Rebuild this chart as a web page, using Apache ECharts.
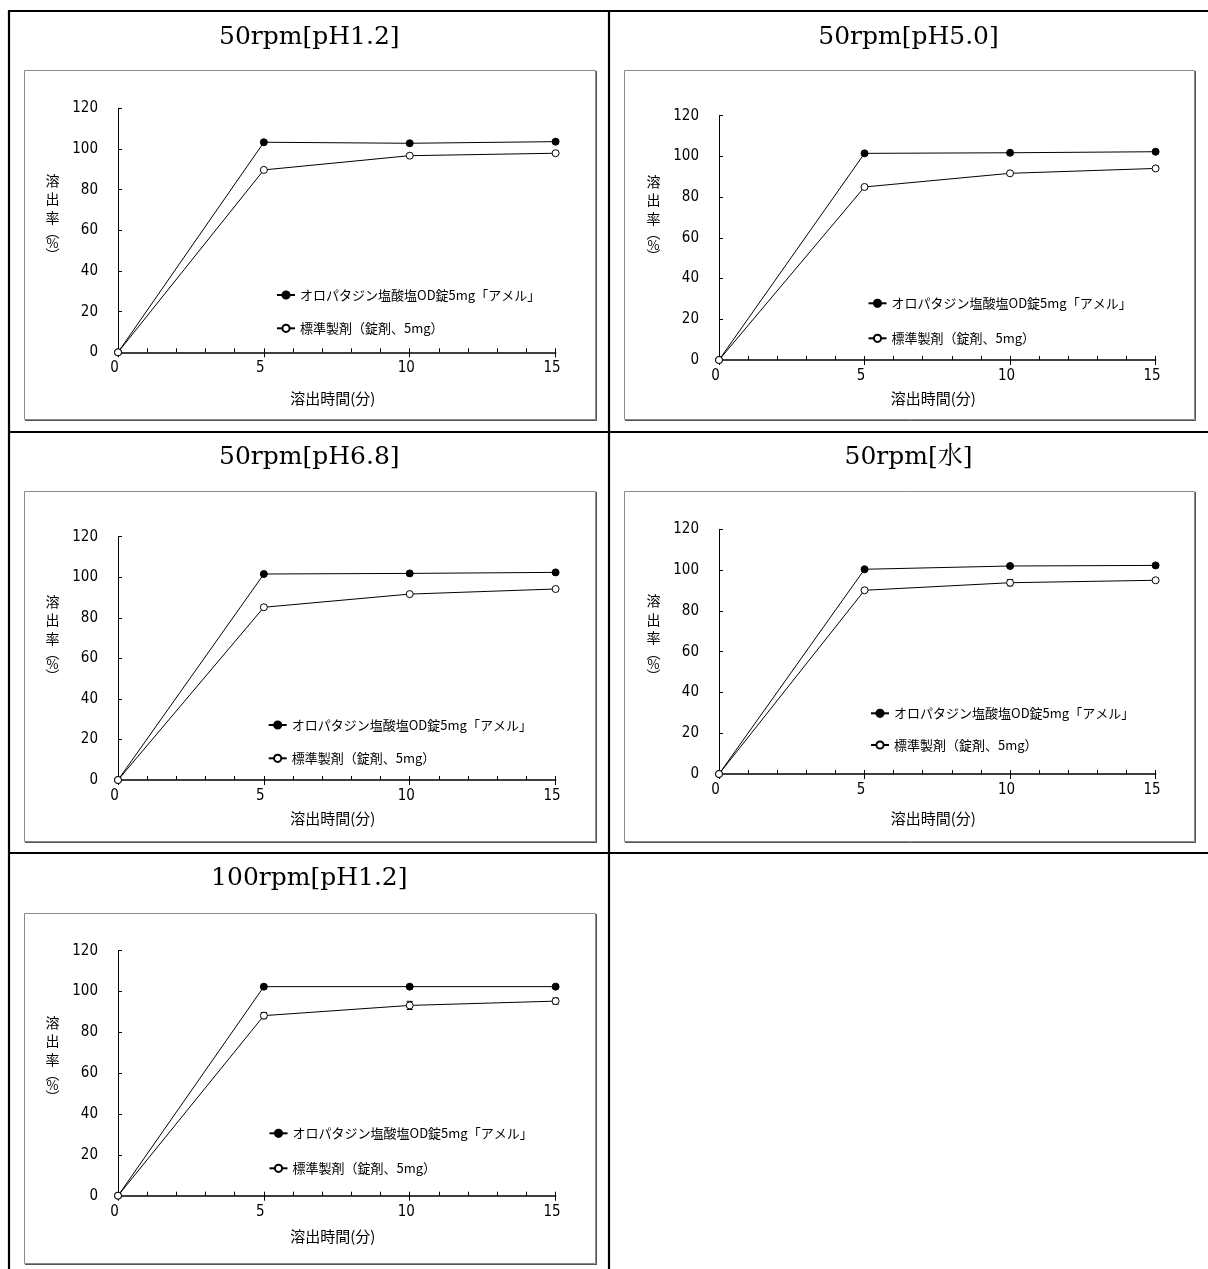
<!DOCTYPE html>
<html><head><meta charset="utf-8">
<script src="https://cdn.jsdelivr.net/npm/echarts@6/dist/echarts.min.js"></script>
<style>html,body{margin:0;padding:0;background:#fff}#c{width:1208px;height:1269px}</style>
</head><body><div id="c"></div>
<script>
// ---- data ----
const times = [0, 5, 10, 15];
const panelTitles = ['50rpm[pH1.2]', '50rpm[pH5.0]', '50rpm[pH6.8]', '50rpm[水]', '100rpm[pH1.2]'];
const seriesNames = ['オロパタジン塩酸塩OD錠5mg「アメル」', '標準製剤（錠剤、5mg）'];
const xAxisName = '溶出時間(分)';
const yAxisNameChars = ['溶', '出', '率', '︵', '%', '︶'];

const test50pH12 = [0, 103.3, 102.8, 103.6];
const ref50pH12 = [0, 89.7, 96.7, 97.9];
const refErr50pH12 = [0, 0, 0, 0];

const test50pH50 = [0, 101.5, 101.8, 102.3];
const ref50pH50 = [0, 85.0, 91.7, 94.1];
const refErr50pH50 = [0, 0, 0, 0];

const test50pH68 = [0, 101.6, 101.9, 102.4];
const ref50pH68 = [0, 85.2, 91.7, 94.2];
const refErr50pH68 = [0, 0, 0, 0];

const test50water = [0, 100.4, 102.0, 102.3];
const ref50water = [0, 90.1, 93.8, 95.0];
const refErr50water = [0, 0.6, 1.5, 0.6];

const test100pH12 = [0, 102.4, 102.4, 102.4];
const ref100pH12 = [0, 88.2, 93.2, 95.3];
const refErr100pH12 = [0, 1.5, 2.0, 1.5];

const yMin = 0, yMax = 120, yStep = 20;
const xMin = 0, xMax = 15, xStep = 5, xMinorStep = 1;

// ---- layout (positions only) ----
const panels = [
  {test: test50pH12, ref: ref50pH12, err: refErr50pH12},
  {test: test50pH50, ref: ref50pH50, err: refErr50pH50},
  {test: test50pH68, ref: ref50pH68, err: refErr50pH68},
  {test: test50water, ref: ref50water, err: refErr50water},
  {test: test100pH12, ref: ref100pH12, err: refErr100pH12}
];
const layout = [
  {frame: [24, 70, 571, 349], grid: [118, 108.3, 437.6, 244], title: [309.3, 37.5], legend: [276, 288, 19.3], yShift: 14.6, xNameGap: 38},
  {frame: [624, 70, 570, 349], grid: [719, 115.7, 436.6, 244.3], title: [908.5, 37.5], legend: [867.5, 296.3, 21], yShift: 21, xNameGap: 30.8},
  {frame: [24, 491, 571, 350], grid: [118, 536.7, 437.6, 243.3], title: [309.3, 457.5], legend: [267.7, 718, 19.3], yShift: 21.6, xNameGap: 30.8},
  {frame: [624, 491, 570, 350], grid: [719, 529.3, 436.6, 244.7], title: [908.5, 457.5], legend: [870, 706.3, 17.7], yShift: 15, xNameGap: 36.8},
  {frame: [24, 913, 571, 350], grid: [118, 950.7, 437.6, 245], title: [309.3, 878.3], legend: [268.5, 1126.3, 21], yShift: 15.5, xNameGap: 33.5}
];

const numFont = '"Liberation Sans Narrow", "DejaVu Sans Condensed", Roboto, sans-serif';
const cjkFont = '"Noto Sans CJK JP", sans-serif';
const titleFont = '"DejaVu Serif", "Noto Serif CJK JP", "Noto Sans CJK JP", serif';

const chart = echarts.init(document.getElementById('c'), null, {renderer: 'canvas'});

const grids = [], xAxes = [], yAxes = [], series = [], legends = [], gEls = [];

// table lines
const tableLines = [
  [8, 11, 1208, 11], [8, 432, 1208, 432], [8, 853, 1208, 853],
  [9, 10, 9, 1269], [609, 10, 609, 1269]
];
tableLines.forEach(l => gEls.push({type: 'line', silent: true, z: 10,
  shape: {x1: l[0], y1: l[1], x2: l[2], y2: l[3]}, style: {stroke: '#000', lineWidth: 2.2}}));

const yName = yAxisNameChars.map((c, k) => '{' + (k < 3 ? 'a' : (k === 4 ? 'c' : 'b')) + '|' + c + '}').join('\n');

panels.forEach((p, i) => {
  const L = layout[i];
  const f = L.frame;
  gEls.push({type: 'rect', silent: true, shape: {x: f[0] + 0.5, y: f[1] + 0.5, width: f[2], height: f[3]},
    style: {fill: null, stroke: '#8a8a8a', lineWidth: 1}});
  gEls.push({type: 'line', silent: true, shape: {x1: f[0] + f[2] + 1.5, y1: f[1] + 1, x2: f[0] + f[2] + 1.5, y2: f[1] + f[3] + 2}, style: {stroke: '#555', lineWidth: 1}});
  gEls.push({type: 'line', silent: true, shape: {x1: f[0] + 1, y1: f[1] + f[3] + 1.5, x2: f[0] + f[2] + 2, y2: f[1] + f[3] + 1.5}, style: {stroke: '#555', lineWidth: 1}});
  gEls.push({type: 'text', silent: true, x: L.title[0], y: L.title[1],
    style: {text: panelTitles[i], align: 'center', verticalAlign: 'middle', font: '25px ' + titleFont, fill: '#000'}});

  grids.push({left: L.grid[0], top: L.grid[1], width: L.grid[2], height: L.grid[3], containLabel: false, outerBoundsMode: 'none'});

  xAxes.push({
    type: 'value', gridIndex: i, min: xMin, max: xMax, interval: xStep, position: 'bottom',
    axisLine: {show: true, onZero: false, lineStyle: {color: '#000', width: 1.5}},
    axisTick: {show: true, inside: false, length: 5, lineStyle: {color: '#000', width: 1}},
    axisLabel: {show: true, margin: 8, fontFamily: numFont, fontSize: 15, lineHeight: 16, color: '#000', padding: [0, 7, 0, 0]},
    splitLine: {show: false},
    name: xAxisName, nameLocation: 'middle', nameGap: L.xNameGap,
    nameTextStyle: {fontFamily: cjkFont, fontSize: 15, lineHeight: 15, color: '#000', padding: [0, 8, 0, 0]}
  });
  xAxes.push({
    type: 'value', gridIndex: i, min: xMin, max: xMax, interval: xMinorStep, position: 'bottom',
    axisLine: {show: false, onZero: false},
    axisTick: {show: true, inside: true, length: 4, lineStyle: {color: '#000', width: 1}},
    axisLabel: {show: false}, splitLine: {show: false}
  });
  yAxes.push({
    type: 'value', gridIndex: i, min: yMin, max: yMax, interval: yStep,
    axisLine: {show: true, lineStyle: {color: '#000', width: 1}},
    axisTick: {show: true, inside: true, length: 4, lineStyle: {color: '#000', width: 1}},
    axisLabel: {show: true, margin: 20, fontFamily: numFont, fontSize: 15, color: '#000'},
    splitLine: {show: false},
    name: yName, nameLocation: 'middle', nameRotate: 0, nameGap: 65.5,
    nameTextStyle: {align: 'center', verticalAlign: 'middle', color: '#000', padding: [0, 0, 2 * L.yShift, 0],
      rich: {
        a: {fontFamily: cjkFont, fontSize: 14, lineHeight: 18.5, color: '#000', align: 'center'},
        b: {fontFamily: cjkFont, fontSize: 14, lineHeight: 11, color: '#000', align: 'center'},
        c: {fontFamily: cjkFont, fontSize: 13, lineHeight: 12, color: '#000', align: 'center'}
      }}
  });

  series.push({
    type: 'line', name: seriesNames[0], xAxisIndex: 2 * i, yAxisIndex: i,
    data: times.map((t, k) => [t, p.test[k]]),
    symbol: 'circle', symbolSize: 7, showSymbol: true, z: 3,
    lineStyle: {color: '#000', width: 1},
    itemStyle: {color: '#000', borderColor: '#000', borderWidth: 1},
    emphasis: {disabled: true}, silent: true
  });
  const errData = times.map((t, k) => [t, p.ref[k] - p.err[k], p.ref[k] + p.err[k]]).filter(d => d[2] - d[1] > 0);
  if (errData.length) {
    series.push({
      type: 'custom', xAxisIndex: 2 * i, yAxisIndex: i, silent: true, z: 2,
      encode: {x: 0, y: [1, 2]}, data: errData,
      renderItem: function (params, api) {
        const lo = api.coord([api.value(0), api.value(1)]);
        const hi = api.coord([api.value(0), api.value(2)]);
        const w = 3;
        const st = {stroke: '#000', lineWidth: 1};
        return {type: 'group', children: [
          {type: 'line', shape: {x1: lo[0], y1: lo[1], x2: hi[0], y2: hi[1]}, style: st},
          {type: 'line', shape: {x1: lo[0] - w, y1: lo[1], x2: lo[0] + w, y2: lo[1]}, style: st},
          {type: 'line', shape: {x1: hi[0] - w, y1: hi[1], x2: hi[0] + w, y2: hi[1]}, style: st}
        ]};
      }
    });
  }
  series.push({
    type: 'line', name: seriesNames[1], xAxisIndex: 2 * i, yAxisIndex: i,
    data: times.map((t, k) => [t, p.ref[k]]),
    symbol: 'circle', symbolSize: 7, showSymbol: true, z: 4,
    lineStyle: {color: '#000', width: 1},
    itemStyle: {color: '#fff', borderColor: '#000', borderWidth: 1},
    emphasis: {disabled: true}, silent: true
  });

  legends.push({
    orient: 'vertical', left: L.legend[0], top: L.legend[1], itemGap: L.legend[2], padding: 0,
    itemWidth: 18, itemHeight: 9, selectedMode: false,
    data: seriesNames,
    textStyle: {fontFamily: cjkFont, fontSize: 13, lineHeight: 14, color: '#000'}
  });
});

chart.setOption({
  animation: false,
  backgroundColor: '#fff',
  grid: grids, xAxis: xAxes, yAxis: yAxes, series: series, legend: legends,
  graphic: {elements: gEls}
});
</script></body></html>
